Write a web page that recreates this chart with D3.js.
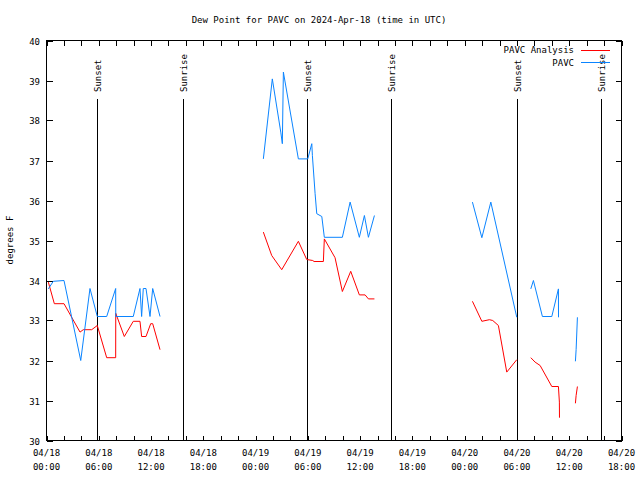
<!DOCTYPE html>
<html><head><meta charset="utf-8">
<script src="https://cdn.jsdelivr.net/npm/d3@7"></script>
<style>body{margin:0;background:#fff}svg{display:block}text{font-family:"DejaVu Sans Mono","Liberation Mono",monospace;font-size:9px;fill:#000}</style>
</head><body><svg id="c" width="640" height="480"></svg>
<script>
// hours since 2024-04-18 00:00 UTC; null breaks the line
const pavcHours = [0.21,0.78,2.01,3.93,4.99,5.83,6.91,7.94,7.95,9.96,10.73,10.92,11.11,11.42,11.88,12.19,13.03,null,
  24.89,25.92,26.89,27.07,27.19,28.91,29.99,30.45,30.52,30.83,31.02,31.60,31.89,33.96,34.85,35.91,36.49,36.95,37.64,null,
  48.89,49.97,51.00,53.98,null,55.59,55.89,56.92,58.00,58.76,58.77,null,60.71,60.79,60.94];
const pavcValues = [33.79,33.98,34.0,32.0,33.8,33.1,33.1,33.8,33.1,33.1,33.8,33.1,33.8,33.8,33.1,33.8,33.1,null,
  37.04,39.04,37.71,37.42,39.21,37.04,37.04,37.42,37.12,36.17,35.67,35.6,35.08,35.08,35.96,35.08,35.625,35.08,35.625,null,
  35.96,35.07,35.96,33.08,null,33.79,34.0,33.1,33.1,33.79,33.08,null,31.98,32.27,33.08];
const analysisHours = [0.21,0.90,2.01,3.85,4.22,5.19,5.83,6.91,7.94,7.95,8.93,9.96,10.73,10.92,11.42,11.96,12.19,13.03,null,
  24.89,25.85,27.00,28.91,29.87,30.56,30.71,31.78,31.89,33.12,33.96,34.92,35.91,36.57,36.95,37.64,null,
  48.89,49.97,50.84,51.22,51.87,52.83,53.98,null,55.59,56.08,56.66,58.00,58.76,58.87,58.88,null,60.71,60.79,60.94];
const analysisValues = [33.96,33.42,33.42,32.71,32.77,32.77,32.875,32.07,32.07,33.18,32.6,32.98,32.98,32.6,32.6,32.92,32.92,32.27,null,
  35.21,34.625,34.27,34.98,34.525,34.5,34.475,34.475,35.04,34.57,33.725,34.23,33.64,33.64,33.54,33.54,null,
  33.48,32.98,33.02,33.0,32.875,31.71,32.02,null,32.07,31.96,31.875,31.35,31.35,30.96,30.57,null,30.93,31.125,31.35];
const sunsetHours = [5.83, 29.87, 53.98];
const sunriseHours = [15.68, 39.58, 63.6];
const xTickLabels = ["04/18\n00:00","04/18\n06:00","04/18\n12:00","04/18\n18:00","04/19\n00:00","04/19\n06:00","04/19\n12:00","04/19\n18:00","04/20\n00:00","04/20\n06:00","04/20\n12:00","04/20\n18:00"];
const yTicks = [30,31,32,33,34,35,36,37,38,39,40];
const titleText = "Dew Point for PAVC on 2024-Apr-18 (time in UTC)";
const seriesNames = ["PAVC Analysis","PAVC"];
const seriesColors = ["#ff0000","#0a84ff"];

const t0 = Date.UTC(2024,3,18,0,0);
const toDate = h => new Date(t0 + h*3600e3);
const L=46.5, R=621.5, T=40.5, B=440.5;
const svg = d3.select("#c");
const x = d3.scaleUtc().domain([toDate(0), toDate(66)]).range([L,R]);
const y = d3.scaleLinear().domain([30,40]).range([B,T]);

svg.append("text").attr("x",319).attr("y",23).attr("text-anchor","middle").text(titleText);

// frame
svg.append("rect").attr("x",L).attr("y",T).attr("width",R-L).attr("height",B-T).attr("fill","none").attr("stroke","#000");

// x ticks every 2h, mirrored
const minor = d3.range(0,67,2).map(toDate);
const g = svg.append("g").attr("stroke","#000").attr("shape-rendering","crispEdges");
minor.forEach(d=>{
  const px = Math.round(x(d))+0.5;
  g.append("line").attr("x1",px).attr("x2",px).attr("y1",B).attr("y2",B-5);
  g.append("line").attr("x1",px).attr("x2",px).attr("y1",T).attr("y2",T+5);
});
yTicks.forEach(v=>{
  const py = Math.round(y(v))+0.5;
  g.append("line").attr("x1",L).attr("x2",L+6).attr("y1",py).attr("y2",py);
  g.append("line").attr("x1",R).attr("x2",R-6).attr("y1",py).attr("y2",py);
  svg.append("text").attr("x",40).attr("y",py+3).attr("text-anchor","end").text(v);
});
xTickLabels.forEach((s,i)=>{
  const px = x(toDate(i*6));
  const parts = s.split("\n");
  const t = svg.append("text").attr("text-anchor","middle");
  t.append("tspan").attr("x",px).attr("y",456).text(parts[0]);
  t.append("tspan").attr("x",px).attr("y",470).text(parts[1]);
});
svg.append("text").attr("transform","translate(13,240) rotate(-90)").attr("text-anchor","middle").text("degrees F");

// sun lines
const sun = sunsetHours.map(h=>({h,label:"Sunset"})).concat(sunriseHours.map(h=>({h,label:"Sunrise"})));
sun.forEach(s=>{
  const px = Math.round(x(toDate(s.h)))+0.5;
  svg.append("line").attr("x1",px).attr("x2",px).attr("y1",99).attr("y2",B).attr("stroke","#000").attr("shape-rendering","crispEdges");
  svg.append("text").attr("transform",`translate(${px+3},92) rotate(-90)`).attr("text-anchor","start").text(s.label);
});

// series
const line = d3.line().defined(d=>d.v!==null).x(d=>x(toDate(d.h))).y(d=>y(d.v));
const mk = (hs,vs)=>hs.map((h,i)=>({h,v:h===null?null:vs[i]}));
svg.append("path").datum(mk(analysisHours,analysisValues)).attr("d",line).attr("fill","none").attr("stroke",seriesColors[0]).attr("stroke-width",1);
svg.append("path").datum(mk(pavcHours,pavcValues)).attr("d",line).attr("fill","none").attr("stroke",seriesColors[1]).attr("stroke-width",1);

// legend
seriesNames.forEach((n,i)=>{
  const ly = 50 + i*12.5;
  svg.append("text").attr("x",574).attr("y",ly+3).attr("text-anchor","end").text(n);
  svg.append("line").attr("x1",581).attr("x2",610).attr("y1",ly).attr("y2",ly).attr("stroke",seriesColors[i]).attr("shape-rendering","crispEdges");
});
</script></body></html>
